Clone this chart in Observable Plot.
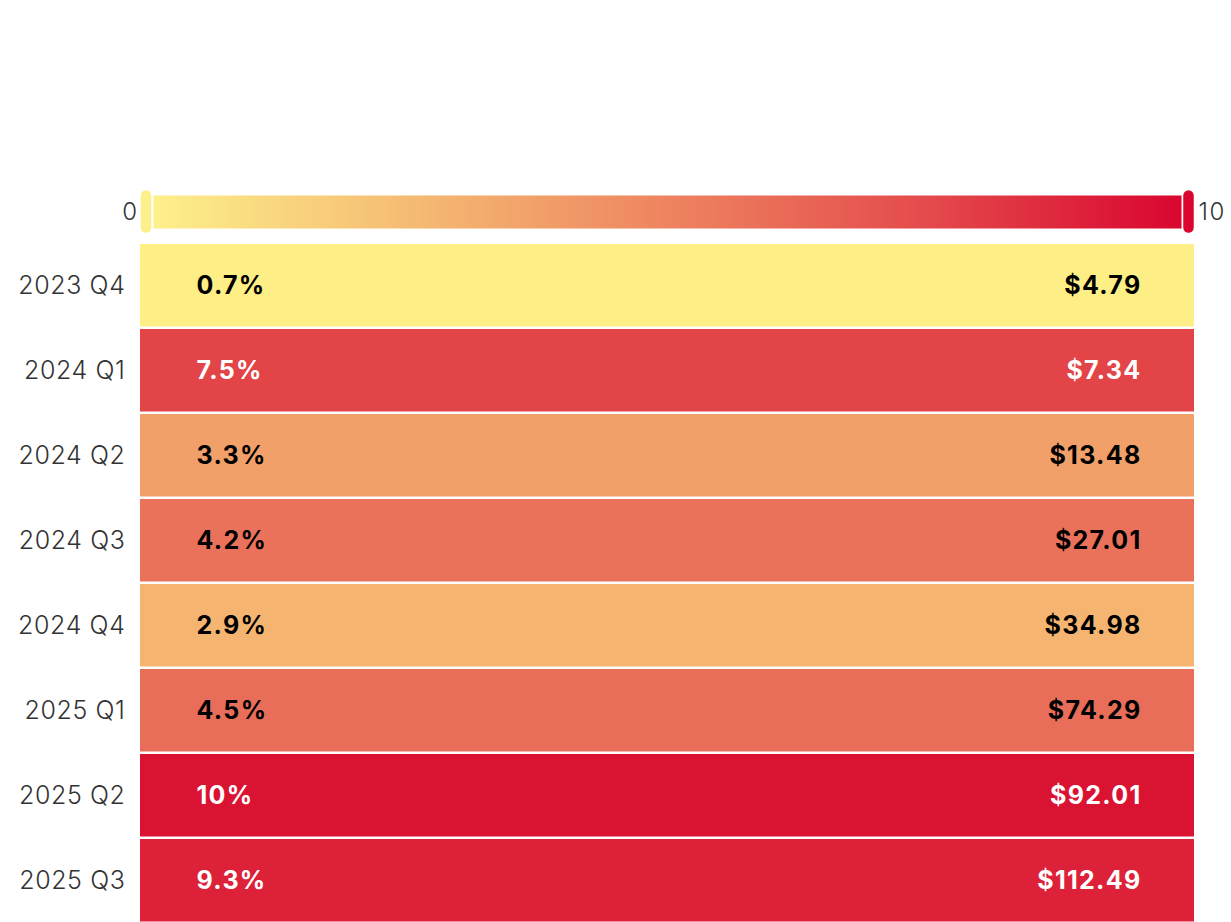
<!DOCTYPE html>
<html>
<head>
<meta charset="utf-8">
<script src="https://cdn.jsdelivr.net/npm/d3@7"></script>
<script src="https://cdn.jsdelivr.net/npm/@observablehq/plot@0.6"></script>
<style>
  html, body { margin: 0; padding: 0; background: #fff; }
  #chart svg { display: block; }
  #chart svg g[font-weight="700"] text { letter-spacing: 1.3px; }
  #chart svg g[font-weight="300"] text { letter-spacing: 0.6px; }
  #chart svg g[font-weight="350"] text { letter-spacing: 1.5px; }
</style>
</head>
<body>
<div id="chart"></div>
<script>
// ---- data ----
const quarters = ["2023 Q4", "2024 Q1", "2024 Q2", "2024 Q3", "2024 Q4", "2025 Q1", "2025 Q2", "2025 Q3"];
const changePct = [0.7, 7.5, 3.3, 4.2, 2.9, 4.5, 10, 9.3];
const prices = [4.79, 7.34, 13.48, 27.01, 34.98, 74.29, 92.01, 112.49];
const legendTicks = [0, 10];
const legendColors = ["#fdf08a", "#f5bb73", "#ee8460", "#e44b4c", "#da0630"];
const cellStops = [0.7, 2.9, 4.2, 7.5, 10];
const cellColors = ["#fdee85", "#f5b571", "#ea725b", "#e34448", "#db1333"];

const rows = quarters.map((q, i) => ({quarter: q, pct: changePct[i], price: prices[i]}));
const font = "Inter, 'Noto Sans', 'DejaVu Sans', sans-serif";
const isDark = (d) => d.pct > 6;

// ---- legend ----
const legend = Plot.plot({
  width: 1231,
  height: 243,
  marginLeft: 153,
  marginRight: 50,
  marginTop: 195,
  marginBottom: 15,
  style: {fontFamily: font, fontSize: "24px", color: "#333", background: "transparent", overflow: "visible"},
  x: {domain: legendTicks, axis: null},
  y: {domain: [0, 1], axis: null},
  color: {type: "linear", domain: legendTicks, interpolate: d3.piecewise(d3.interpolateRgb, legendColors)},
  marks: [
    Plot.raster({fill: (x, y) => x, x1: legendTicks[0], x2: legendTicks[1], y1: 0, y2: 1, width: 1028, height: 1, imageRendering: "auto"}),
    Plot.ruleX([legendTicks[0]], {x: d => d, stroke: d => d, strokeWidth: 10.5, strokeLinecap: "round", dx: -7.5, insetTop: 0.5, insetBottom: 0.5}),
    Plot.ruleX([legendTicks[1]], {x: d => d, stroke: d => d, strokeWidth: 10.5, strokeLinecap: "round", dx: 7, insetTop: 0.5, insetBottom: 0.5}),
    Plot.text([legendTicks[0]], {x: d => d, text: d => String(d), textAnchor: "end", dx: -15, fill: "#333", fontSize: 24, fontWeight: 350}),
    Plot.text([legendTicks[1]], {x: d => d, text: d => String(d), textAnchor: "start", dx: 17, fill: "#333", fontSize: 24, fontWeight: 350})
  ]
});

// ---- table heatmap ----
const main = Plot.plot({
  width: 1231,
  height: 682,
  marginLeft: 140,
  marginRight: 37,
  marginTop: 0,
  marginBottom: 0,
  style: {fontFamily: font, fontSize: "25px", color: "#333", background: "transparent", overflow: "visible"},
  y: {domain: quarters, padding: 0, label: null},
  color: {type: "linear", domain: cellStops, range: cellColors, interpolate: "rgb"},
  marks: [
    Plot.cell(rows, {y: "quarter", fill: "pct", insetBottom: 2.5}),
    Plot.text(rows, {filter: d => !isDark(d), y: "quarter", text: d => `${d.pct}%`, frameAnchor: "left", textAnchor: "start", dx: 56, dy: -1, fill: "#000", fontWeight: 700}),
    Plot.text(rows, {filter: d => isDark(d), y: "quarter", text: d => `${d.pct}%`, frameAnchor: "left", textAnchor: "start", dx: 56, dy: -1, fill: "#fff", fontWeight: 700}),
    Plot.text(rows, {filter: d => !isDark(d), y: "quarter", text: d => `$${d.price.toFixed(2)}`, frameAnchor: "right", textAnchor: "end", dx: -53, dy: -1, fill: "#000", fontWeight: 700}),
    Plot.text(rows, {filter: d => isDark(d), y: "quarter", text: d => `$${d.price.toFixed(2)}`, frameAnchor: "right", textAnchor: "end", dx: -53, dy: -1, fill: "#fff", fontWeight: 700}),
    Plot.axisY({tickSize: 0, tickPadding: 15, label: null, fill: "#333", fontWeight: 300, dy: -1})
  ]
});

const chart = document.getElementById("chart");
chart.appendChild(legend);
chart.appendChild(main);
</script>
</body>
</html>
